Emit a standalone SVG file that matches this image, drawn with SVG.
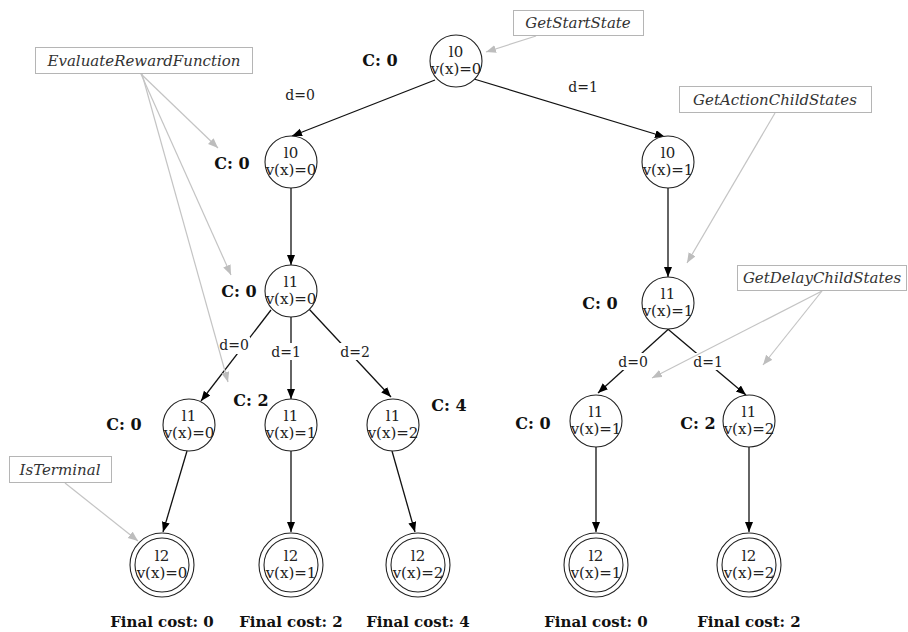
<svg xmlns="http://www.w3.org/2000/svg" width="908" height="632" viewBox="0 0 908 632">
<defs>
<marker id="ah" markerUnits="userSpaceOnUse" markerWidth="11" markerHeight="9" refX="10" refY="4" orient="auto"><path d="M0,0 L10,4 L0,8 z" fill="#000"/></marker>
<marker id="ag" markerUnits="userSpaceOnUse" markerWidth="11" markerHeight="9" refX="10" refY="4" orient="auto"><path d="M0,0 L10,4 L0,8 z" fill="#bdbdbd"/></marker>
<style>
.n{fill:#fff;stroke:#222;stroke-width:1.1}
.t{font-family:"DejaVu Serif",serif;font-size:14px;fill:#222;text-anchor:middle}
.v{font-family:"DejaVu Serif",serif;font-size:15px;fill:#222;text-anchor:middle}
.c{font-family:"DejaVu Serif",serif;font-size:16px;font-weight:bold;fill:#111;text-anchor:middle}
.f{font-family:"DejaVu Serif",serif;font-size:15px;font-weight:bold;fill:#111;text-anchor:middle}
.e{stroke:#111;stroke-width:1.3;fill:none;marker-end:url(#ah)}
.g{stroke:#c4c4c4;stroke-width:1.2;fill:none;marker-end:url(#ag)}
.b{fill:#fff;stroke:#b5b5b5;stroke-width:1}
.a{font-family:"DejaVu Serif",serif;font-size:15px;font-style:italic;fill:#333;text-anchor:middle}
.lb{fill:#fff}
</style>
</defs>
<rect width="908" height="632" fill="#fff"/>
<g id="edges">
<line class="e" x1="435" y1="80" x2="292" y2="136"/>
<line class="e" x1="474" y1="79" x2="665" y2="137"/>
<line class="e" x1="291" y1="188" x2="291" y2="265"/>
<line class="e" x1="668" y1="188" x2="668" y2="277"/>
<line class="e" x1="271" y1="310" x2="201" y2="401"/>
<line class="e" x1="291" y1="317" x2="291" y2="399"/>
<line class="e" x1="309" y1="309" x2="391" y2="397"/>
<line class="e" x1="673" y1="325" x2="598" y2="393"/>
<line class="e" x1="663" y1="325" x2="746" y2="395"/>
<line class="e" x1="187" y1="451" x2="163" y2="532"/>
<line class="e" x1="291" y1="451" x2="291" y2="532"/>
<line class="e" x1="392" y1="451" x2="415" y2="532"/>
<line class="e" x1="596" y1="447" x2="596" y2="532"/>
<line class="e" x1="749" y1="447" x2="749" y2="532"/>
</g>
<g id="edge-labels">
<text class="t" x="300" y="100">d=0</text>
<text class="t" x="583" y="92">d=1</text>
<rect class="lb" x="218" y="337" width="32" height="17"/><text class="t" x="234" y="350">d=0</text>
<rect class="lb" x="270" y="343" width="31" height="17"/><text class="t" x="286" y="357">d=1</text>
<rect class="lb" x="339" y="343" width="33" height="17"/><text class="t" x="355" y="357">d=2</text>
<rect class="lb" x="617" y="353" width="33" height="17"/><text class="t" x="633" y="367">d=0</text>
<rect class="lb" x="692" y="353" width="32" height="17"/><text class="t" x="708" y="367">d=1</text>
</g>
<g id="root"><circle class="n" cx="456" cy="61" r="26"/><text class="v" x="456" y="57">l0</text><text class="v" x="456" y="74">v(x)=0</text><text class="c" x="380" y="66">C: 0</text></g>
<g id="nA"><circle class="n" cx="291" cy="162" r="26"/><text class="v" x="291" y="158">l0</text><text class="v" x="291" y="175">v(x)=0</text><text class="c" x="232" y="169">C: 0</text></g>
<g id="nB"><circle class="n" cx="668" cy="162" r="26"/><text class="v" x="668" y="158">l0</text><text class="v" x="668" y="175">v(x)=1</text></g>
<g id="nC"><circle class="n" cx="291" cy="291" r="26"/><text class="v" x="291" y="287">l1</text><text class="v" x="291" y="304">v(x)=0</text><text class="c" x="239" y="297">C: 0</text></g>
<g id="nD"><circle class="n" cx="668" cy="303" r="26"/><text class="v" x="668" y="299">l1</text><text class="v" x="668" y="316">v(x)=1</text><text class="c" x="600" y="309">C: 0</text></g>
<g id="nE"><circle class="n" cx="189" cy="425" r="26"/><text class="v" x="189" y="421">l1</text><text class="v" x="189" y="438">v(x)=0</text><text class="c" x="124" y="430">C: 0</text></g>
<g id="nF"><circle class="n" cx="291" cy="425" r="26"/><text class="v" x="291" y="421">l1</text><text class="v" x="291" y="438">v(x)=1</text><text class="c" x="251" y="406">C: 2</text></g>
<g id="nG"><circle class="n" cx="393" cy="425" r="26"/><text class="v" x="393" y="421">l1</text><text class="v" x="393" y="438">v(x)=2</text><text class="c" x="449" y="411">C: 4</text></g>
<g id="nH"><circle class="n" cx="596" cy="421" r="26"/><text class="v" x="596" y="417">l1</text><text class="v" x="596" y="434">v(x)=1</text><text class="c" x="533" y="429">C: 0</text></g>
<g id="nI"><circle class="n" cx="749" cy="421" r="26"/><text class="v" x="749" y="417">l1</text><text class="v" x="749" y="434">v(x)=2</text><text class="c" x="698" y="429">C: 2</text></g>
<g id="t1"><circle class="n" cx="162" cy="565" r="32"/><circle class="n" cx="162" cy="565" r="27"/><text class="v" x="162" y="561">l2</text><text class="v" x="162" y="578">v(x)=0</text><text class="f" x="162" y="627">Final cost: 0</text></g>
<g id="t2"><circle class="n" cx="291" cy="565" r="32"/><circle class="n" cx="291" cy="565" r="27"/><text class="v" x="291" y="561">l2</text><text class="v" x="291" y="578">v(x)=1</text><text class="f" x="291" y="627">Final cost: 2</text></g>
<g id="t3"><circle class="n" cx="418" cy="565" r="32"/><circle class="n" cx="418" cy="565" r="27"/><text class="v" x="418" y="561">l2</text><text class="v" x="418" y="578">v(x)=2</text><text class="f" x="418" y="627">Final cost: 4</text></g>
<g id="t4"><circle class="n" cx="596" cy="565" r="32"/><circle class="n" cx="596" cy="565" r="27"/><text class="v" x="596" y="561">l2</text><text class="v" x="596" y="578">v(x)=1</text><text class="f" x="596" y="627">Final cost: 0</text></g>
<g id="t5"><circle class="n" cx="749" cy="565" r="32"/><circle class="n" cx="749" cy="565" r="27"/><text class="v" x="749" y="561">l2</text><text class="v" x="749" y="578">v(x)=2</text><text class="f" x="749" y="627">Final cost: 2</text></g>
<g id="annotation-connectors">
<line class="g" x1="536" y1="36" x2="486" y2="52"/>
<line class="g" x1="141" y1="74" x2="218" y2="148"/>
<line class="g" x1="141" y1="74" x2="231" y2="275"/>
<line class="g" x1="142" y1="74" x2="228" y2="382"/>
<line class="g" x1="775" y1="113" x2="687" y2="263"/>
<line class="g" x1="822" y1="291" x2="652" y2="378"/>
<line class="g" x1="822" y1="291" x2="763" y2="365"/>
<line class="g" x1="65" y1="483" x2="138" y2="541"/>
</g>
<g id="GetStartState"><rect class="b" x="513.5" y="10.5" width="130" height="25"/><text class="a" x="578" y="28">GetStartState</text></g>
<g id="EvaluateRewardFunction"><rect class="b" x="35.5" y="47.5" width="217" height="26"/><text class="a" x="144" y="66">EvaluateRewardFunction</text></g>
<g id="GetActionChildStates"><rect class="b" x="679.5" y="86.5" width="192" height="26"/><text class="a" x="775" y="105">GetActionChildStates</text></g>
<g id="GetDelayChildStates"><rect class="b" x="737.5" y="265.5" width="169" height="25"/><text class="a" x="822" y="283">GetDelayChildStates</text></g>
<g id="IsTerminal"><rect class="b" x="9.5" y="456.5" width="102" height="26"/><text class="a" x="60" y="475">IsTerminal</text></g>
</svg>
